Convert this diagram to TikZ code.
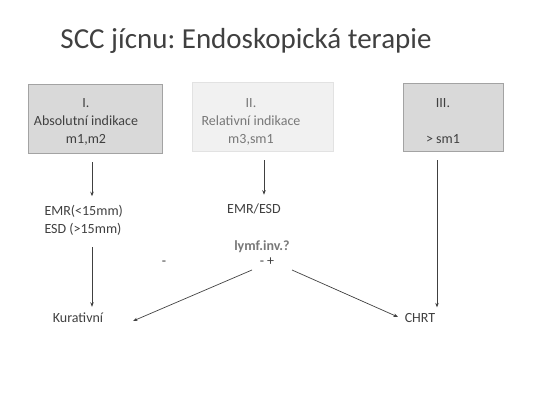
\documentclass[tikz,border=0pt]{standalone}
\usepackage{fontspec}
\setmainfont{Carlito}
\usetikzlibrary{arrows.meta}
\definecolor{Ink}{HTML}{404040}
\definecolor{SoftInk}{HTML}{787878}
\definecolor{BoxGray}{HTML}{D9D9D9}
\definecolor{BoxEdge}{HTML}{A3A3A3}
\definecolor{PaleGray}{HTML}{F1F1F1}
\definecolor{PaleEdge}{HTML}{E2E2E2}
\frenchspacing

\begin{document}
\begin{tikzpicture}[x=1pt,y=-1pt,
        every node/.style={font=\fontsize{14}{18}\selectfont,text=Ink},
        box/.style={draw=BoxEdge,fill=BoxGray,line width=0.8pt},
        palebox/.style={draw=PaleEdge,fill=PaleGray,line width=0.8pt},
        arr/.style={draw=Ink,line width=0.7pt,-{Stealth[length=4.5pt,width=3.5pt]}}]
        \useasboundingbox (0,0) rectangle (547,410);
        \node[font=\fontsize{29}{36}\selectfont,anchor=base] (title) at (246,48) {SCC jícnu: Endoskopická terapie};
        % indication boxes
        \node[box,minimum width=134pt,minimum height=69pt] (ind1) at (95,118.5) {};
        \node[palebox,minimum width=141pt,minimum height=69pt] (ind2) at (262.5,116.5) {};
        \node[box,minimum width=100pt,minimum height=68pt] (ind3) at (453,117) {};
        \node[anchor=base,align=center] (ind1txt) at (86,143) {I.\\Absolutní indikace\\m1,m2};
        \node[anchor=base,align=center,text=SoftInk] (ind2txt) at (251,143) {II.\\Relativní indikace\\m3,sm1};
        \node[anchor=base,align=center] (ind3txt) at (443,143) {III.\\ \\> sm1};
        % therapy
        \node[anchor=base west,align=left] (emr) at (41,233) {EMR(<15mm)\\ESD (>15mm)};
        \node[anchor=base] (emresd) at (254,213) {EMR/ESD};
        \node[anchor=base,font=\fontsize{14}{18}\selectfont\bfseries,text=SoftInk] (lymf) at (262,250) {lymf.inv.?};
        \node[anchor=base] (minus) at (164,265) {-};
        \node[anchor=base] (pm) at (267,265) {- +};
        \node[anchor=base] (kur) at (78,322) {Kurativní};
        \node[anchor=base] (chrt) at (420,322) {CHRT};
        % connectors
        \coordinate (col1) at (92,0);
        \coordinate (col2) at (264,0);
        \coordinate (col3) at (437,0);
        \coordinate (forkL) at (252,270);
        \coordinate (forkR) at (292,270);
        \coordinate (kurIn) at (133,321);
        \coordinate (chrtIn) at (398,317);
        \draw[arr,shorten <=9pt,shorten >=5pt] (ind1.south -| col1) -- (emr.north -| col1);
        \draw[arr,shorten <=9pt,shorten >=2pt] (emr.south -| col1) -- (kur.north -| col1);
        \draw[arr,shorten <=9pt,shorten >=5pt] (ind2.south -| col2) -- (emresd.north -| col2);
        \draw[arr,shorten <=9pt,shorten >=2pt] (ind3.south -| col3) -- (chrt.north -| col3);
        \draw[arr] (forkL) -- (kurIn);
        \draw[arr] (forkR) -- (chrtIn);
\end{tikzpicture}
\end{document}
